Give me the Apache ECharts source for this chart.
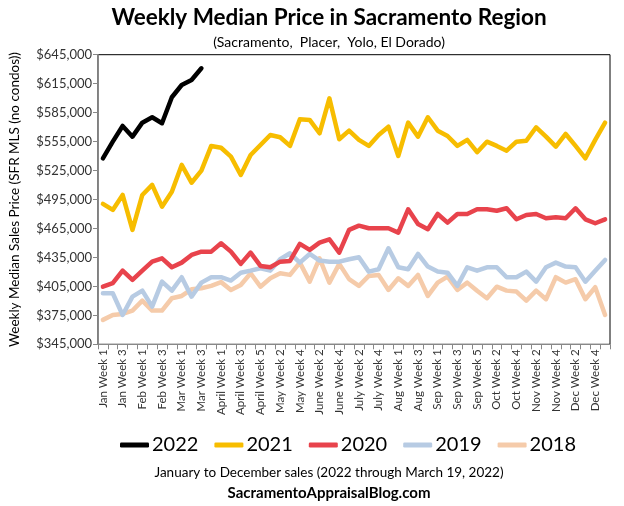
<!DOCTYPE html>
<html>
<head>
<meta charset="utf-8">
<script src="https://cdn.jsdelivr.net/npm/echarts@6/dist/echarts.min.js"></script>
<style>
html,body{margin:0;padding:0;background:#fff;}
#chart{width:624px;height:506px;}
</style>
</head>
<body>
<div id="chart"></div>
<script>
const weeks = [
  'Jan Week 1','Jan Week 2','Jan Week 3','Jan Week 4',
  'Feb Week 1','Feb Week 2','Feb Week 3','Feb Week 4',
  'Mar Week 1','Mar Week 2','Mar Week 3','Mar Week 4',
  'April Week 1','April Week 2','April Week 3','April Week 4','April Week 5',
  'May Week 1','May Week 2','May Week 3','May Week 4',
  'June Week 1','June Week 2','June Week 3','June Week 4',
  'July Week 1','July Week 2','July Week 3','July Week 4','July Week 5',
  'Aug Week 1','Aug Week 2','Aug Week 3','Aug Week 4',
  'Sep Week 1','Sep Week 2','Sep Week 3','Sep Week 4','Sep Week 5',
  'Oct Week 1','Oct Week 2','Oct Week 3','Oct Week 4',
  'Nov Week 1','Nov Week 2','Nov Week 3','Nov Week 4',
  'Dec Week 1','Dec Week 2','Dec Week 3','Dec Week 4','Dec Week 5'
];

const y2022 = [537700, 554900, 571200, 560100, 574600, 580200, 574000, 600900, 613600, 618800, 630900];

const y2021 = [490400, 484200, 499700, 463500, 499700, 510100, 487600, 503100, 530800, 512400,
  524900, 550500, 548600, 539400, 520400, 541100, 551500, 561800, 559500, 550500,
  578100, 577400, 563600, 599800, 557400, 566300, 556700, 550500, 561800, 570400,
  540100, 574600, 560100, 580200, 566300, 560800, 550500, 556700, 544000, 554900,
  550500, 545600, 554900, 555900, 569800, 560100, 549700, 562900, 550500, 537700,
  556700, 574600];

const y2020 = [404700, 408300, 421300, 411700, 421300, 430600, 434100, 424800, 429600, 437600,
  441000, 441000, 449700, 441000, 428300, 440000, 426200, 424800, 430600, 431400,
  449000, 442800, 450300, 453800, 440000, 463500, 467900, 465200, 465200, 465200,
  460700, 484900, 469700, 464200, 480000, 471000, 480000, 480000, 484900, 484900,
  483400, 485900, 474500, 479000, 480000, 475600, 476600, 475600, 485900, 474500,
  470400, 474500];

const y2019 = [397900, 397900, 375400, 394400, 400600, 384000, 409900, 400600, 414500, 394400,
  408900, 414500, 414500, 411000, 419200, 421300, 423800, 421300, 433100, 439300,
  429600, 438600, 431700, 430600, 430600, 433100, 435200, 420300, 422800, 444500,
  424800, 422800, 438600, 425500, 420300, 419200, 405500, 424800, 421300, 424800,
  424800, 414500, 414500, 420300, 409900, 424800, 429600, 425500, 424800, 409900,
  421300, 432400];

const y2018 = [370300, 375400, 376500, 379900, 390200, 379900, 379900, 392700, 395100, 402000,
  403100, 405500, 409400, 401300, 406500, 418600, 404700, 413400, 418600, 416900,
  429600, 409900, 434100, 408900, 428300, 412500, 405500, 415800, 416900, 401300,
  413400, 405500, 416900, 395100, 408900, 415100, 401300, 408900, 400400, 392700,
  404700, 400600, 399600, 390200, 400600, 391700, 414500, 408900, 412400, 391700,
  404100, 375400];

const yTicks = [345000, 375000, 405000, 435000, 465000, 495000, 525000, 555000, 585000, 615000, 645000];

const FONT = 'Lato, "Open Sans", sans-serif';

const chart = echarts.init(document.getElementById('chart'), null, {renderer: 'canvas'});

function line(name, data, color, z) {
  return {
    name: name, type: 'line', data: data, symbol: 'none', z: z,
    lineStyle: {color: color, width: 4.5, join: 'round', cap: 'round'},
    itemStyle: {color: color},
    emphasis: {disabled: true},
    animation: false
  };
}

chart.setOption({
  animation: false,
  backgroundColor: '#fff',
  graphic: [
    {type: 'text', style: {x: 329, y: 18, text: 'Weekly Median Price in Sacramento Region', textAlign: 'center', textVerticalAlign: 'middle', font: 'bold 22.5px ' + FONT, fill: '#000'}},
    {type: 'text', style: {x: 329, y: 42, text: '(Sacramento,  Placer,  Yolo, El Dorado)', textAlign: 'center', textVerticalAlign: 'middle', font: '14px ' + FONT, fill: '#000'}},
    {type: 'text', style: {x: 329, y: 473, text: 'January to December sales (2022 through March 19, 2022)', textAlign: 'center', textVerticalAlign: 'middle', font: '13.5px ' + FONT, fill: '#000'}},
    {type: 'text', style: {x: 329, y: 493, text: 'SacramentoAppraisalBlog.com', textAlign: 'center', textVerticalAlign: 'middle', font: 'bold 15px ' + FONT, fill: '#000'}}
  ],
  legend: {
    data: ['2022', '2021', '2020', '2019', '2018'],
    left: 115, top: 430,
    icon: 'roundRect', itemWidth: 29, itemHeight: 5, itemGap: 16,
    textStyle: {fontFamily: FONT, fontSize: 20, color: '#000', padding: [0, 0, 0, -2]}
  },
  grid: {
    left: 89.5, right: 14, top: 54.7, bottom: 161.7,
    show: true, borderColor: '#000', borderWidth: 1
  },
  xAxis: {
    type: 'category', data: weeks, boundaryGap: true,
    axisLine: {lineStyle: {color: '#888', width: 1}},
    axisTick: {show: true, interval: 0, length: 5, lineStyle: {color: '#888'}},
    axisLabel: {interval: 1, rotate: 90, fontFamily: FONT, fontSize: 11.5, color: '#333', margin: 5}
  },
  yAxis: {
    type: 'value', min: 345000, max: 645000,
    name: 'Weekly Median Sales Price (SFR MLS (no condos))',
    nameLocation: 'middle', nameGap: 76, nameRotate: 90,
    nameTextStyle: {fontFamily: FONT, fontSize: 13.5, color: '#000'},
    splitLine: {show: false},
    axisLine: {show: true, lineStyle: {color: '#888', width: 1}},
    axisTick: {show: true, length: 5, lineStyle: {color: '#888'}, customValues: yTicks},
    axisLabel: {
      customValues: yTicks,
      fontFamily: FONT, fontSize: 13, color: '#333', margin: 6,
      formatter: function (v) { return '$' + v.toLocaleString('en-US'); }
    }
  },
  series: [
    line('2018', y2018, '#F5CBAA', 1),
    line('2019', y2019, '#B7CBE3', 2),
    line('2020', y2020, '#E8434C', 3),
    line('2021', y2021, '#F7BD00', 4),
    line('2022', y2022, '#000000', 5)
  ]
});
</script>
</body>
</html>
